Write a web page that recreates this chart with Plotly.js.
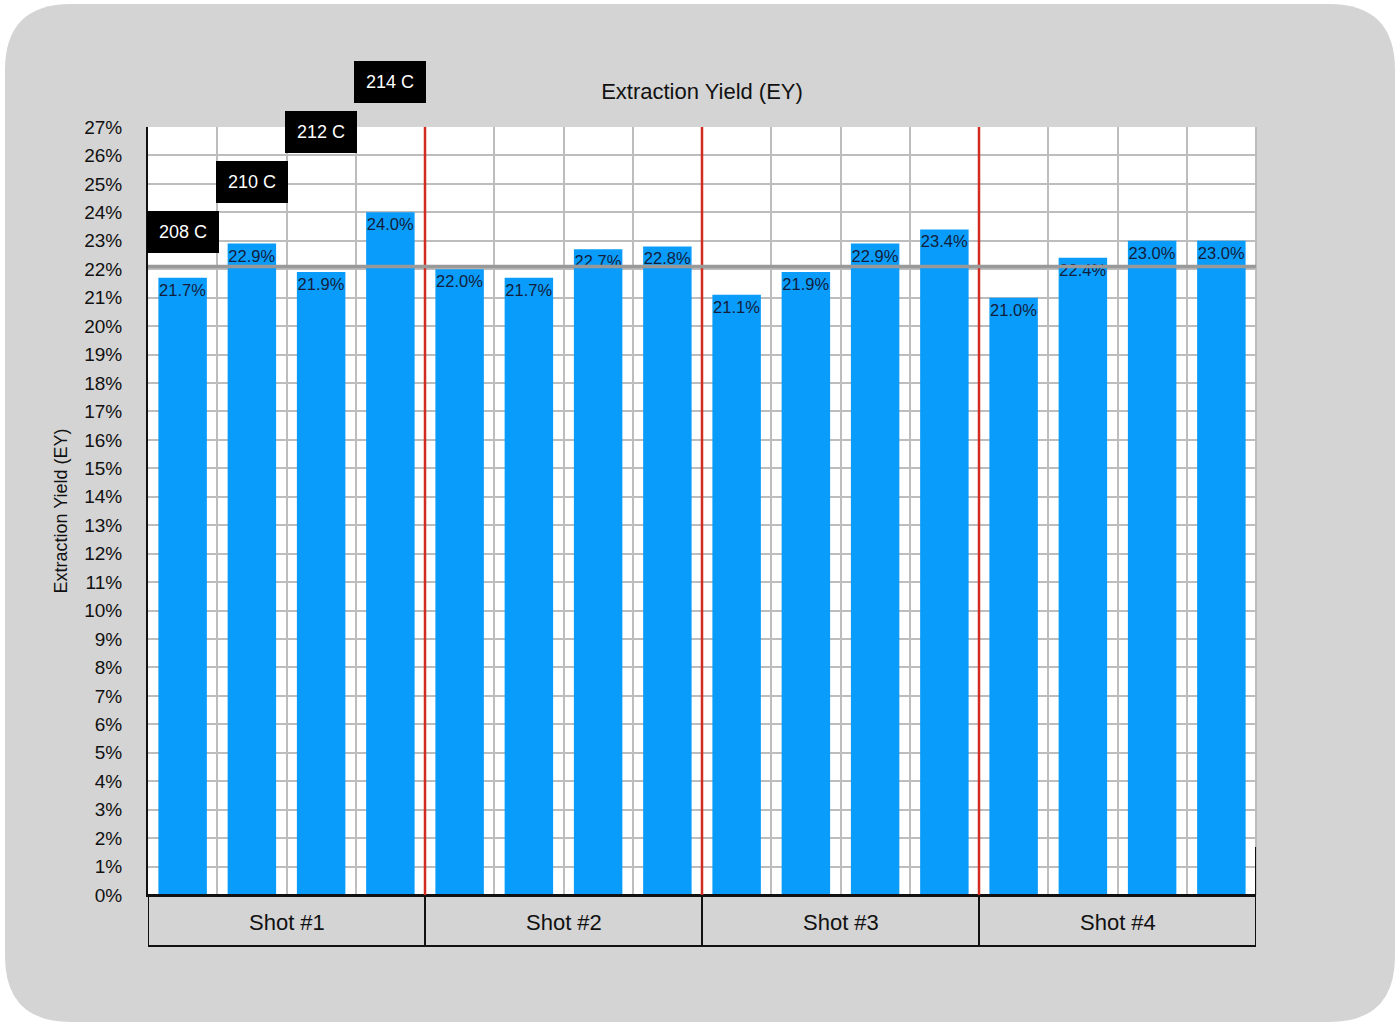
<!DOCTYPE html>
<html>
<head>
<meta charset="utf-8">
<script src="https://cdn.plot.ly/plotly-3.0.1.min.js"></script>
<style>
  html, body { margin: 0; padding: 0; background: #ffffff; }
  #chart { width: 1400px; height: 1024px; }
</style>
</head>
<body>
<div id="chart"></div>
<script>
// Chart data
const shots = ["Shot #1", "Shot #2", "Shot #3", "Shot #4"];
const temps = ["208 C", "210 C", "212 C", "214 C"];
const eyValues = [21.7, 22.9, 21.9, 24.0, 22.0, 21.7, 22.7, 22.8, 21.1, 21.9, 22.9, 23.4, 21.0, 22.4, 23.0, 23.0];
const avgEY = 22.1;

const barsPerShot = temps.length;
const fontFamily = '"Liberation Sans", Arial, sans-serif';

// Plot area in page pixels, used to place decorations outside the axes
const plotLeft = 148, plotRight = 1256, plotTop = 127, plotBottom = 895;
const px = x => (x - plotLeft) / (plotRight - plotLeft);
const py = y => (plotBottom - y) / (plotBottom - plotTop);

// Bars
let xPos = eyValues.map((v, i) => i);
let barTrace = {
    x: xPos,
    y: eyValues,
    type: "bar",
    width: 0.7,
    marker: {color: "#0A9CFA"},
    texttemplate: "%{y:.1f}%",
    textposition: "inside",
    insidetextanchor: "end",
    textangle: 0,
    constraintext: "none",
    textfont: {family: fontFamily, size: 16.5, color: "#121d3a"},
    hoverinfo: "skip"
};

// Rounded grey background
const r = 66, bx0 = 5, bx1 = 1395, by0 = 4, by1 = 1022;
const P = (x, y) => px(x).toFixed(5) + "," + py(y).toFixed(5);
let bgPath = "M" + P(bx0 + r, by0) + " L" + P(bx1 - r, by0) +
    " Q" + P(bx1, by0) + " " + P(bx1, by0 + r) +
    " L" + P(bx1, by1 - r) +
    " Q" + P(bx1, by1) + " " + P(bx1 - r, by1) +
    " L" + P(bx0 + r, by1) +
    " Q" + P(bx0, by1) + " " + P(bx0, by1 - r) +
    " L" + P(bx0, by0 + r) +
    " Q" + P(bx0, by0) + " " + P(bx0 + r, by0) + " Z";

let shapes = [
    {type: "path", xref: "paper", yref: "paper", path: bgPath, fillcolor: "#d4d4d4", line: {width: 0}, layer: "below"},
    {type: "rect", xref: "paper", yref: "paper", x0: 0, x1: 1, y0: 0, y1: 1, fillcolor: "#ffffff", line: {width: 0}, layer: "below"},
    {type: "line", xref: "paper", yref: "paper", x0: 1, x1: 1, y0: 0, y1: 1, line: {color: "#bdbdbd", width: 2}}
];

// Shot boxes below the axis and red separators between shots
shots.forEach((s, g) => {
    let x0 = g * barsPerShot - 0.5, x1 = (g + 1) * barsPerShot - 0.5;
    shapes.push({type: "rect", xref: "x", yref: "paper", x0: x0, x1: x1, y0: py(946), y1: 0,
        fillcolor: "rgba(0,0,0,0)", line: {color: "#111111", width: 2}});
    if (g > 0) {
        shapes.push({type: "line", xref: "x", yref: "paper", x0: x0, x1: x0, y0: 0, y1: 1,
            line: {color: "#d22b1f", width: 2.5}});
    }
});
shapes.push({type: "line", xref: "x", yref: "paper", x0: eyValues.length - 0.5, x1: eyValues.length - 0.5,
    y0: 0, y1: py(847), line: {color: "#111111", width: 2}});

// Average line
shapes.push({type: "line", xref: "paper", yref: "y", x0: 0, x1: 1, y0: avgEY, y1: avgEY,
    line: {color: "#999999", width: 3.5}});

// Annotations: shot labels and temperature tags
let annotations = shots.map((s, g) => ({
    text: s, xref: "x", yref: "paper", x: g * barsPerShot + (barsPerShot - 1) / 2, y: py(922),
    xanchor: "center", yanchor: "middle",
    showarrow: false, font: {family: fontFamily, size: 22, color: "#111111"}
}));
temps.forEach((t, i) => {
    annotations.push({
        text: t, xref: "x", yref: "paper", x: i, y: py(232 - i * 50),
        xanchor: "center", yanchor: "middle",
        showarrow: false, bgcolor: "#000000", borderwidth: 0, borderpad: 1,
        width: 70, height: 40,
        font: {family: fontFamily, size: 18, color: "#ffffff"}
    });
});

let gridVals = [];
for (let i = 0; i <= eyValues.length; i++) gridVals.push(i - 0.5);

let layout = {
    width: 1400,
    height: 1024,
    margin: {l: plotLeft, r: 1400 - plotRight, t: plotTop, b: 1024 - plotBottom, pad: 0},
    paper_bgcolor: "#ffffff",
    plot_bgcolor: "rgba(0,0,0,0)",
    font: {family: fontFamily, color: "#111111"},
    showlegend: false,
    bargap: 0.3,
    title: {
        text: "Extraction Yield (EY)",
        font: {family: fontFamily, size: 22, color: "#111111"},
        x: 0.5, xref: "paper", y: 1 - 91 / 1024, yref: "container", yanchor: "middle"
    },
    xaxis: {
        range: [-0.5, eyValues.length - 0.5],
        tickmode: "array",
        tickvals: gridVals,
        showticklabels: false,
        ticks: "",
        showgrid: true,
        gridcolor: "#bdbdbd",
        gridwidth: 2,
        zeroline: false,
        showline: true,
        linecolor: "#111111",
        linewidth: 2,
        fixedrange: true
    },
    yaxis: {
        range: [0, 27],
        dtick: 1,
        ticksuffix: "%",
        ticks: "",
        ticklabelstandoff: 20,
        tickfont: {family: fontFamily, size: 19, color: "#111111"},
        showgrid: true,
        gridcolor: "#bdbdbd",
        gridwidth: 2,
        zeroline: false,
        showline: true,
        linecolor: "#111111",
        linewidth: 2,
        title: {text: "Extraction Yield (EY)", standoff: 12, font: {family: fontFamily, size: 18, color: "#111111"}},
        fixedrange: true
    },
    shapes: shapes,
    annotations: annotations
};

Plotly.newPlot("chart", [barTrace], layout, {displayModeBar: false, staticPlot: true});
</script>
</body>
</html>
